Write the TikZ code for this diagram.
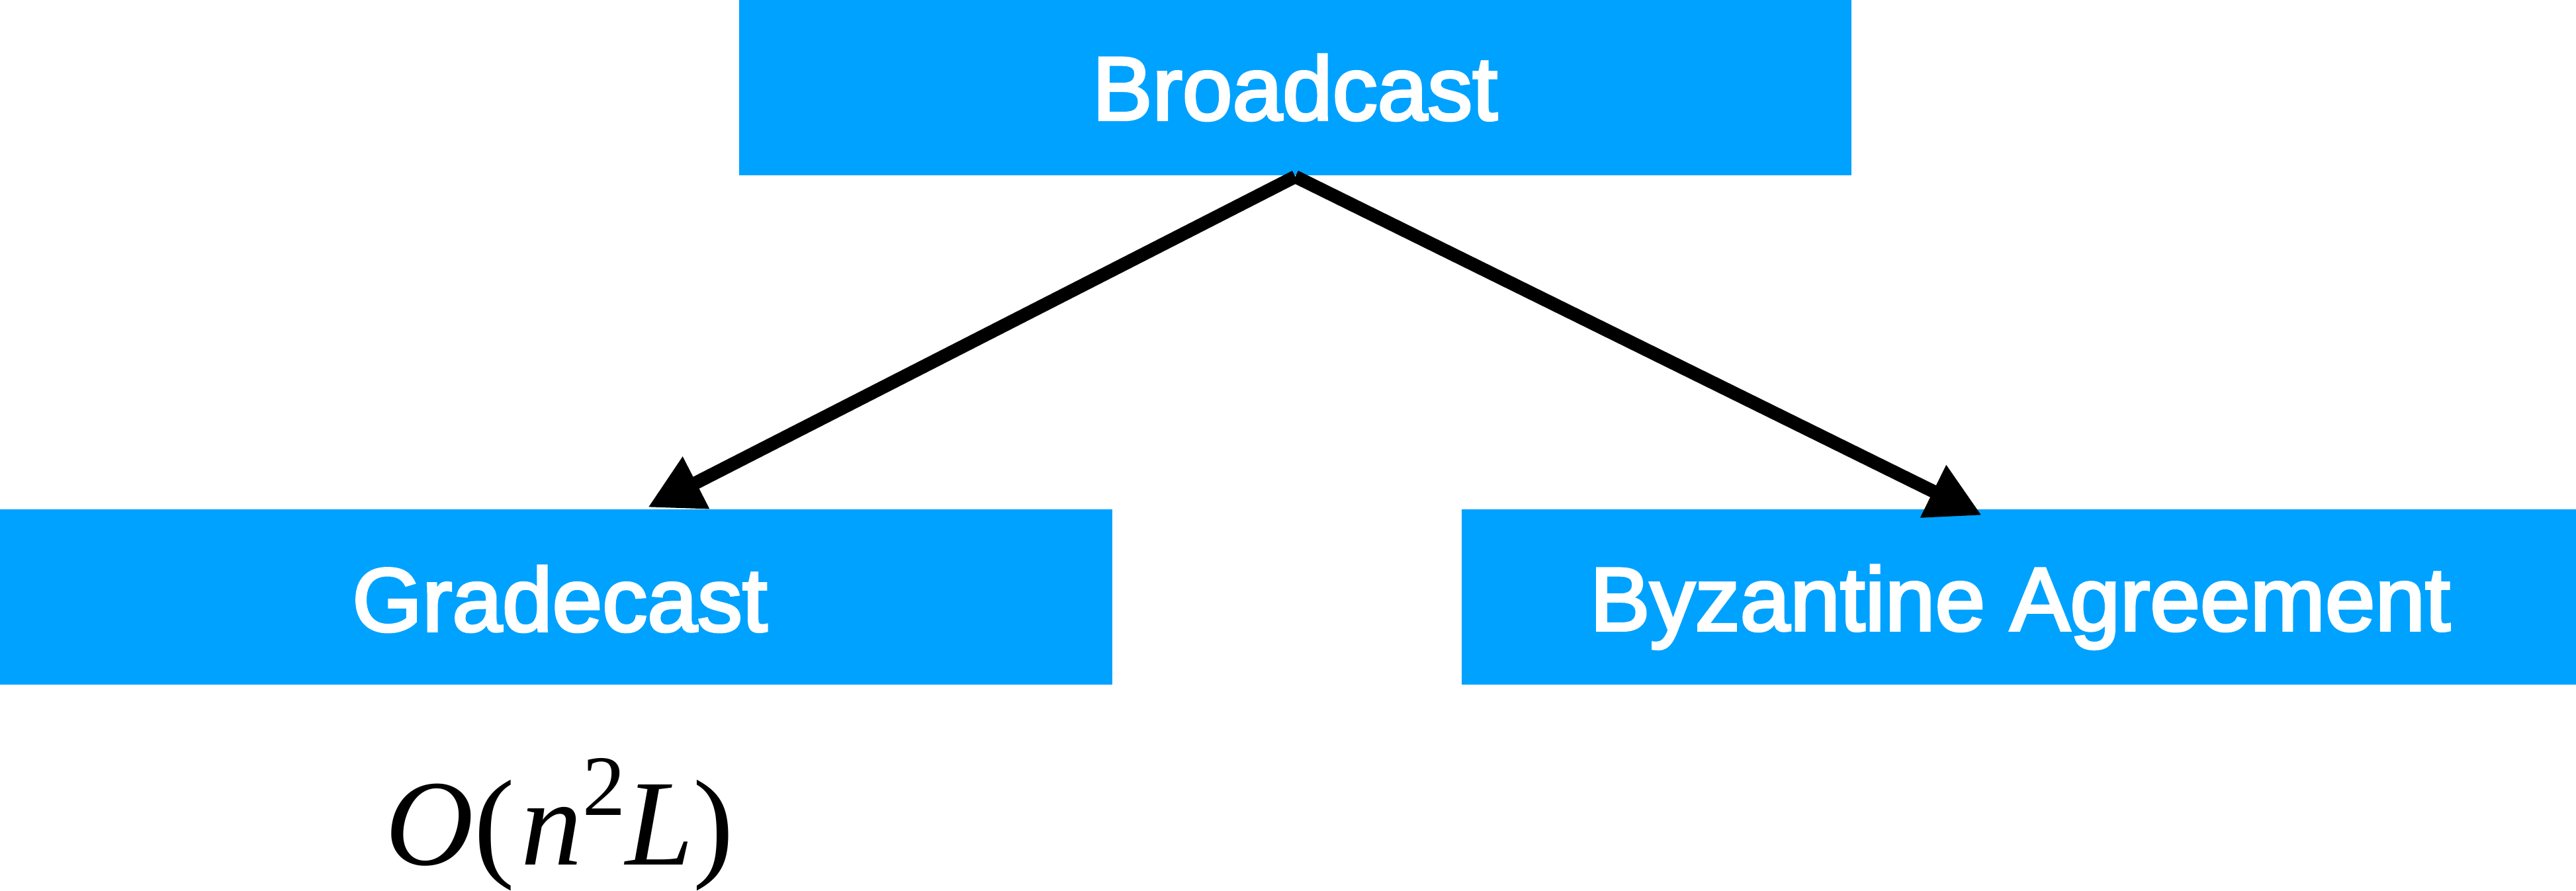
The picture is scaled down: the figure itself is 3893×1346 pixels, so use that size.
\documentclass[tikz,border=0pt]{standalone}
\usepackage{fontspec}
\setmainfont{Liberation Sans}
\newfontfamily\boxfont[FakeBold=3]{Liberation Sans}
\newfontfamily\tmfont{Liberation Serif}
\usetikzlibrary{arrows.meta}
\definecolor{boxblue}{RGB}{0,162,255}
\tikzset{
  bluebox/.style={fill=boxblue, draw=none, inner sep=0pt, minimum height=26.5pt},
  boxlabel/.style={text=white, inner sep=0pt, anchor=base, font=\boxfont\fontsize{13.6pt}{16pt}\selectfont},
  conn/.style={line width=2pt, -{Triangle[length=8.2pt,width=8.3pt]}},
}
\begin{document}
\begin{tikzpicture}[x=0.1pt,y=-0.1pt]
\useasboundingbox (0,0) rectangle (3893,1346);
% boxes
\node[bluebox, minimum width=168.1pt] (b) at (1957.5,132.5) {};
\node[bluebox, minimum width=168.1pt] (g) at (840.5,902.5) {};
\node[bluebox, minimum width=168.4pt] (z) at (3051,902.5) {};
% labels
\node[boxlabel] (bt) at (1957,181) {Broadcast};
\node[boxlabel] (gt) at (846,954) {Gradecast};
\node[boxlabel] (zt) at (3053,953) {Byzantine Agreement};
% complexity
\node[inner sep=0pt, anchor=base, font=\fontsize{18.5pt}{20pt}\tmfont] (c) at (846,1307)
  {\itshape O\/\upshape(\kern1pt\itshape n\/\upshape\raisebox{7.5pt}{\fontsize{13pt}{13pt}\selectfont 2}\itshape L\/\upshape)};
% arrow tips
\coordinate (gtip) at (979,767);
\coordinate (ztip) at (2995,779);
\draw[conn] (b.south) -- (gtip);
\draw[conn] (b.south) -- (ztip);
\end{tikzpicture}
\end{document}
